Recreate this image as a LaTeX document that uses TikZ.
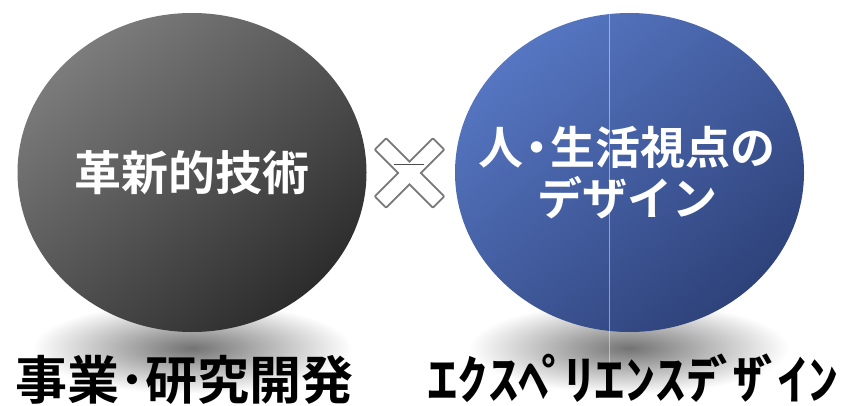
\documentclass[tikz,border=0pt]{standalone}
\usepackage{fontspec}
\usetikzlibrary{shapes.geometric}
\newfontfamily\jpb{Noto Sans CJK JP Bold}
\definecolor{grayA}{RGB}{124,124,124}
\definecolor{grayB}{RGB}{44,44,44}
\definecolor{blueA}{RGB}{86,118,194}
\definecolor{blueB}{RGB}{46,66,122}
\definecolor{xgray}{RGB}{120,120,120}
\newcommand{\dk}[1]{\kern-0.125em#1\kern-0.125em}
\tikzset{
  bigcircle/.style={ellipse, minimum width=349pt, minimum height=319pt, inner sep=0pt},
  intext/.style={text=white, align=center},
  captext/.style={text=black, inner sep=0pt},
  shadowfill/.style={inner color=black!55, outer color=white}
}
\begin{document}
\begin{tikzpicture}[x=1pt,y=-1pt]
\useasboundingbox (0,0) rectangle (842,406);
\fill[white] (0,0) rectangle (842,406);
% soft shadows under the circles
\shade[shadowfill] (192,348) ellipse [x radius=160, y radius=46];
\shade[shadowfill] (629,348) ellipse [x radius=160, y radius=46];
% circles
\node[bigcircle, top color=grayA, bottom color=grayB, shading angle=40] (tech) at (192,172.5) {};
\node[bigcircle, top color=blueA, bottom color=blueB, shading angle=40] (design) at (629.5,172.5) {};
% thin light vertical line
\coordinate (vtop) at (609,14);
\coordinate (vbot) at (609,374);
\draw[white, opacity=0.45, line width=0.8pt] (vtop) -- (vbot);
% texts inside circles
\node[intext, font=\jpb\fontsize{47}{51}\selectfont] (techtxt) at (tech.center) {革新的技術};
\node[intext, font=\jpb\fontsize{45}{51}\selectfont] (designtxt) at (627,172.5) {人\kern-0.2em・\kern-0.2em生活視点の\\デザイン};
% cross symbol
\begin{scope}[shift={(409.5,173)}]
  \foreach \a in {45,135} {
    \draw[xgray, line width=4pt, line join=round, rotate=\a] (-40,-7) rectangle (40,7);
  }
  \foreach \a in {45,135} {
    \fill[white, rotate=\a] (-40,-7) rectangle (40,7);
  }
  \draw[black!70, line width=0.8pt] (-16,-9) -- (14,-9);
\end{scope}
% captions
\node[captext, font=\jpb\fontsize{52}{52}\selectfont] (cap1) at (184,380) {事業･研究開発};
\node[captext, font=\jpb\fontsize{53}{53}\selectfont] (cap2) at (633,378) {\scalebox{1.15}[1]{ｴｸｽﾍ\dk{ﾟ}ﾘｴﾝｽﾃ\dk{ﾞ}ｻ\dk{ﾞ}ｲﾝ}};
\end{tikzpicture}
\end{document}
